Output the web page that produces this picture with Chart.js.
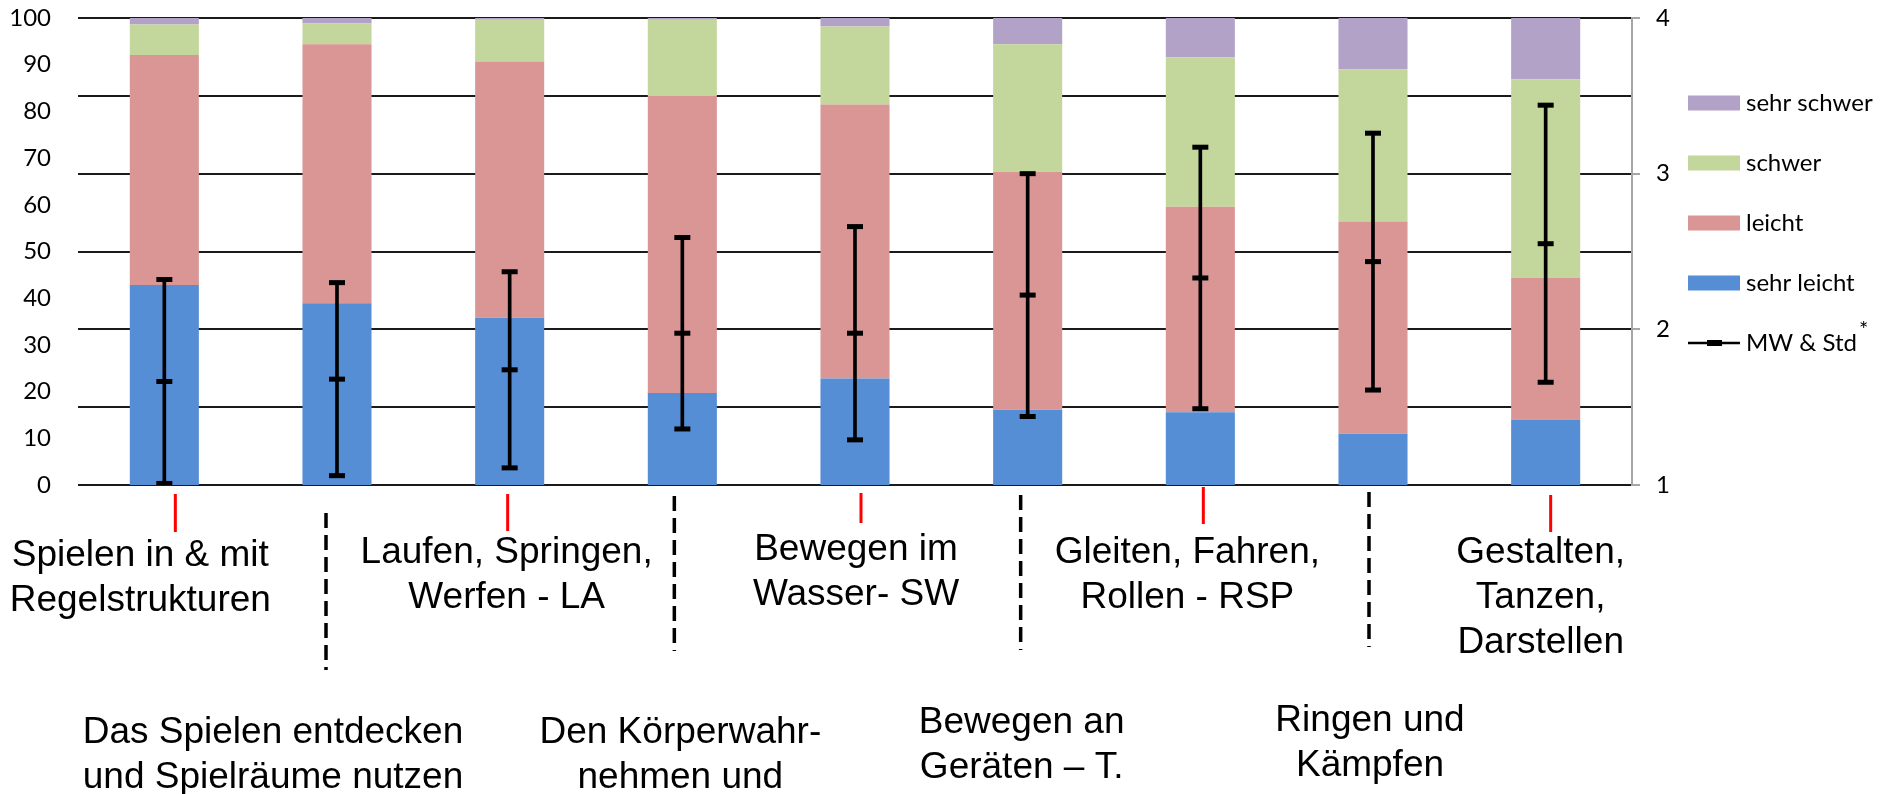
<!DOCTYPE html>
<html><head><meta charset="utf-8">
<script src="https://cdn.jsdelivr.net/npm/chart.js@4.4.1/dist/chart.umd.min.js"></script>
<style>
html,body{margin:0;padding:0;background:#fff;}
#wrap{position:relative;width:1881px;height:794px;}
</style></head><body>
<div id="wrap"><canvas id="c" width="1881" height="794"></canvas></div>
<script>
// ---- data ----
const categories = [
  ["Spielen in & mit", "Regelstrukturen"],
  ["Das Spielen entdecken", "und Spielräume nutzen"],
  ["Laufen, Springen,", "Werfen - LA"],
  ["Den Körperwahr-", "nehmen und"],
  ["Bewegen im", "Wasser- SW"],
  ["Bewegen an", "Geräten – T."],
  ["Gleiten, Fahren,", "Rollen - RSP"],
  ["Ringen und", "Kämpfen"],
  ["Gestalten,", "Tanzen,", "Darstellen"]
];
const seriesNames = ["sehr leicht", "leicht", "schwer", "sehr schwer"];
const sehrLeicht = [42.8, 38.9, 35.8, 19.7, 22.8, 16.1, 15.6, 11.0, 14.0];
const leicht     = [49.3, 55.5, 54.9, 63.6, 58.7, 51.0, 44.0, 45.4, 30.3];
const schwer     = [6.5, 4.4, 8.9, 16.3, 16.7, 27.3, 32.0, 32.6, 42.6];
const sehrSchwer = [1.4, 1.2, 0.4, 0.4, 1.8, 5.6, 8.4, 11.0, 13.1];
const mwValues   = [1.665, 1.68, 1.74, 1.975, 1.975, 2.22, 2.33, 2.435, 2.55];
const stdValues  = [0.655, 0.62, 0.63, 0.615, 0.685, 0.78, 0.84, 0.825, 0.89];
const leftTickStep = 10;   // 0..100
const rightTickLabels = [1, 2, 3, 4];
const mwLegendLabel = "MW & Std";

// ---- layout (styling only) ----
const colors = ["#558ED5", "#D99694", "#C3D69B", "#B3A2C7"];
const labelLayout = [
  {dx: -24, base: 566, mx: 11, m0: 494, m1: 532, dashed: false},
  {dx: -64, base: 743, mx: -11, m0: 513, m1: 670, dashed: true},
  {dx: -3,  base: 563, mx: -2, m0: 494, m1: 531, dashed: false},
  {dx: -2,  base: 743, mx: -8, m0: 496, m1: 651, dashed: true},
  {dx: 1,   base: 560, mx: 6, m0: 493, m1: 523, dashed: false},
  {dx: -6,  base: 733, mx: -7, m0: 495, m1: 650, dashed: true},
  {dx: -13, base: 563, mx: 3, m0: 487, m1: 524, dashed: false},
  {dx: -3,  base: 731, mx: -4, m0: 492, m1: 647, dashed: true},
  {dx: -5,  base: 563, mx: 5, m0: 495, m1: 532, dashed: false}
];

const catLabelPlugin = {
  id: 'catLabels',
  afterDraw(chart) {
    const ctx = chart.ctx, xs = chart.scales.x;
    ctx.save();
    labelLayout.forEach((L, i) => {
      const cx = xs.getPixelForValue(i);
      ctx.beginPath();
      if (L.dashed) { ctx.lineWidth = 3.5; ctx.setLineDash([15, 7]); ctx.strokeStyle = '#000'; }
      else { ctx.lineWidth = 3; ctx.setLineDash([]); ctx.strokeStyle = '#ff0000'; }
      ctx.moveTo(cx + L.mx, L.m0); ctx.lineTo(cx + L.mx, L.m1); ctx.stroke();
      ctx.setLineDash([]);
      ctx.fillStyle = '#000';
      ctx.font = '37px "Liberation Sans", Arial, sans-serif';
      ctx.textAlign = 'center'; ctx.textBaseline = 'alphabetic';
      categories[i].forEach((line, k) => ctx.fillText(line, cx + L.dx, L.base + k * 45));
    });
    ctx.restore();
  }
};

const legendPlugin = {
  id: 'customLegend',
  afterDraw(chart) {
    const ctx = chart.ctx;
    const items = chart.data.datasets.slice(0, 4).slice().reverse();
    const x0 = 1688, w = 52, h = 15, y0 = 103, dy = 60;
    ctx.save();
    ctx.font = '24px Lato'; ctx.textBaseline = 'middle'; ctx.textAlign = 'left';
    items.forEach((ds, k) => {
      const y = y0 + k * dy;
      ctx.fillStyle = ds.backgroundColor; ctx.fillRect(x0, y - h / 2, w, h);
      ctx.fillStyle = '#000'; ctx.fillText(ds.label, x0 + w + 6, y);
    });
    const y = y0 + 4 * dy;
    ctx.strokeStyle = '#000'; ctx.lineWidth = 2.5;
    ctx.beginPath(); ctx.moveTo(x0, y); ctx.lineTo(x0 + w, y); ctx.stroke();
    ctx.lineWidth = 6;
    ctx.beginPath(); ctx.moveTo(x0 + 19, y); ctx.lineTo(x0 + 34, y); ctx.stroke();
    ctx.fillStyle = '#000';
    ctx.fillText(mwLegendLabel, x0 + w + 6, y);
    const tw = ctx.measureText(mwLegendLabel).width;
    ctx.font = '22px Lato';
    ctx.fillText('*', x0 + w + 8 + tw, y - 13);
    ctx.restore();
  }
};

const isInt = v => Math.abs(v - Math.round(v)) < 1e-6;
const pointDs = (label, data) => ({
  type: 'line', label, data, yAxisID: 'y2', showLine: false,
  pointStyle: 'line', pointRadius: 8, pointHoverRadius: 8, pointBorderWidth: 5,
  borderColor: '#000', pointBorderColor: '#000', backgroundColor: '#000', order: -2
});
const noPad = s => { s.paddingTop = 0; s.paddingBottom = 0; };

new Chart(document.getElementById('c'), {
  type: 'bar',
  data: {
    labels: categories.map(c => c.join(' ')),
    datasets: [
      {label: seriesNames[0], data: sehrLeicht, backgroundColor: colors[0], yAxisID: 'y', stack: 's'},
      {label: seriesNames[1], data: leicht, backgroundColor: colors[1], yAxisID: 'y', stack: 's'},
      {label: seriesNames[2], data: schwer, backgroundColor: colors[2], yAxisID: 'y', stack: 's'},
      {label: seriesNames[3], data: sehrSchwer, backgroundColor: colors[3], yAxisID: 'y', stack: 's'},
      {label: 'Std', type: 'bar', data: mwValues.map((m, i) => [m - stdValues[i], m + stdValues[i]]),
       yAxisID: 'y2', backgroundColor: '#000', barThickness: 3, grouped: false, order: -1},
      pointDs('MW', mwValues),
      pointDs('MW+Std', mwValues.map((m, i) => m + stdValues[i])),
      pointDs('MW-Std', mwValues.map((m, i) => m - stdValues[i]))
    ]
  },
  options: {
    responsive: false, animation: false, devicePixelRatio: 1,
    datasets: {bar: {categoryPercentage: 0.8, barPercentage: 0.5}},
    layout: {padding: {top: 18, bottom: 309, left: 0, right: 0}},
    plugins: {legend: {display: false}, tooltip: {enabled: false}},
    scales: {
      x: {stacked: true, display: false, offset: true},
      y: {
        stacked: true, position: 'left', min: 0, max: 100,
        ticks: {stepSize: leftTickStep, padding: 27, color: '#000', font: {family: 'Lato', size: 24}},
        grid: {display: false, drawTicks: false}, border: {display: false},
        afterFit(s) { s.width = 78; noPad(s); }
      },
      y2: {
        position: 'right', min: rightTickLabels[0], max: rightTickLabels[rightTickLabels.length - 1],
        ticks: {stepSize: 0.5, padding: 16, color: '#000', font: {family: 'Lato', size: 24},
                callback: v => isInt(v) && rightTickLabels.includes(Math.round(v)) ? String(Math.round(v)) : ''},
        grid: {color: '#1a1a1a', lineWidth: 2, tickLength: 8,
               tickColor: c => isInt(c.tick.value) ? '#a6a6a6' : 'rgba(0,0,0,0)'},
        border: {color: '#a6a6a6', width: 2},
        afterFit(s) { s.width = 249; noPad(s); }
      }
    }
  },
  plugins: [catLabelPlugin, legendPlugin]
});
</script>
</body></html>
